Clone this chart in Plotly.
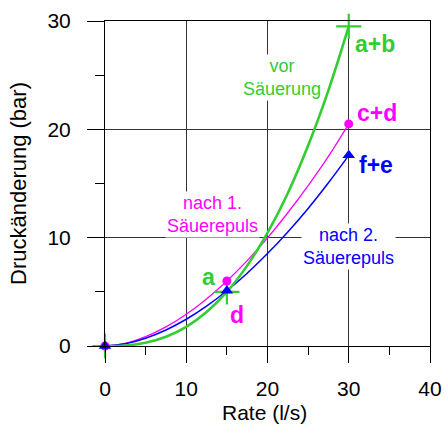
import plotly.graph_objects as go

# Measured points (markers)
rate_pts = [0, 15, 30]
vor_pts = [0, 5.0, 29.5]      # a+b, vor Säuerung
nach1_pts = [0, 6.0, 20.5]    # c+d, nach 1. Säuerepuls
nach2_pts = [0, 5.1, 17.6]    # f+e, nach 2. Säuerepuls

# Curve values
rate_curve = [0, 2.5, 5, 7.5, 10, 12.5, 15, 17.5, 20, 22.5, 25, 27.5, 30]
vor_curve = [0, 0.05, 0.30, 0.85, 1.77, 3.14, 5.0, 7.42, 10.44, 14.1, 18.5, 23.6, 29.5]
nach1_curve = [0, 0.25, 0.86, 1.76, 2.93, 4.35, 6.0, 7.88, 9.98, 12.3, 14.8, 17.5, 20.5]
nach2_curve = [0, 0.21, 0.72, 1.48, 2.47, 3.68, 5.1, 6.72, 8.53, 10.53, 12.7, 15.07, 17.6]

GREEN = "#33cc33"
MAGENTA = "#ff00ff"
BLUE = "#0000ff"
FONT = "Liberation Sans, Arial, sans-serif"

fig = go.Figure()

fig.add_trace(go.Scatter(x=rate_curve, y=nach1_curve, mode="lines",
                         line=dict(color=MAGENTA, width=1.3, shape="spline"), showlegend=False))
fig.add_trace(go.Scatter(x=rate_curve, y=nach2_curve, mode="lines",
                         line=dict(color=BLUE, width=1.5, shape="spline"), showlegend=False))
fig.add_trace(go.Scatter(x=rate_curve, y=vor_curve, mode="lines",
                         line=dict(color=GREEN, width=2.6, shape="spline"), showlegend=False))

fig.add_trace(go.Scatter(x=rate_pts, y=vor_pts, mode="markers", cliponaxis=False,
                         marker=dict(symbol="cross-thin", size=18, line=dict(color=GREEN, width=2.2)),
                         showlegend=False))
fig.add_trace(go.Scatter(x=rate_pts, y=nach1_pts, mode="markers", cliponaxis=False,
                         marker=dict(symbol="circle", size=9, color=MAGENTA), showlegend=False))
fig.add_trace(go.Scatter(x=rate_pts, y=nach2_pts, mode="markers", cliponaxis=False,
                         marker=dict(symbol="triangle-up", size=11, color=BLUE), showlegend=False))

annotations = [
    dict(x=21.75, y=24.8, text="vor<br>Säuerung", color=GREEN, size=18, bold=False, bg=True),
    dict(x=13.17, y=12.1, text="nach 1.<br>Säuerepuls", color=MAGENTA, size=18, bold=False, bg=True),
    dict(x=30.0, y=9.14, text="nach 2.<br>Säuerepuls", color=BLUE, size=18, bold=False, bg=True),
    dict(x=33.2, y=27.85, text="a+b", color=GREEN, size=23, bold=True, bg=False),
    dict(x=33.5, y=21.48, text="c+d", color=MAGENTA, size=23, bold=True, bg=False),
    dict(x=33.35, y=16.7, text="f+e", color=BLUE, size=23, bold=True, bg=False),
    dict(x=12.72, y=6.4, text="a", color=GREEN, size=23, bold=True, bg=False),
    dict(x=16.2, y=2.86, text="d", color=MAGENTA, size=23, bold=True, bg=False),
]
for a in annotations:
    fig.add_annotation(
        x=a["x"], y=a["y"], xref="x", yref="y",
        text=("<b>%s</b>" % a["text"]) if a["bold"] else a["text"],
        showarrow=False,
        font=dict(family=FONT, size=a["size"], color=a["color"]),
        bgcolor="white" if a["bg"] else "rgba(0,0,0,0)",
        borderpad=1,
    )

# x-axis title placed as a paper annotation below the tick labels
fig.add_annotation(
    x=0.49, y=-0.206, xref="paper", yref="paper", xanchor="center", yanchor="middle",
    text="Rate (l/s)", showarrow=False, borderpad=0,
    font=dict(family=FONT, size=21, color="black"),
)

GRID = "#333333"
fig.update_xaxes(
    range=[0, 40], tickvals=[0, 10, 20, 30, 40], automargin=False,
    showgrid=True, gridcolor=GRID, gridwidth=1,
    zeroline=False, showline=True, linecolor="black", linewidth=1, mirror=True,
    ticks="outside", ticklen=16, tickcolor="black", tickwidth=1,
    minor=dict(tickvals=[5, 15, 25, 35], ticks="outside", ticklen=8, tickcolor="black", showgrid=False),
    tickfont=dict(family=FONT, size=21, color="black"),
    ticklabelstandoff=8,
)
fig.update_yaxes(
    range=[0, 30], tickvals=[0, 10, 20, 30], automargin=False,
    showgrid=True, gridcolor=GRID, gridwidth=1,
    zeroline=False, showline=True, linecolor="black", linewidth=1, mirror=True,
    ticks="outside", ticklen=17, tickcolor="black", tickwidth=1,
    minor=dict(tickvals=[5, 15, 25], ticks="outside", ticklen=9, tickcolor="black", showgrid=False),
    tickfont=dict(family=FONT, size=21, color="black"),
    ticklabelstandoff=12,
    title=dict(text="Druckänderung (bar)", font=dict(family=FONT, size=22, color="black"), standoff=14),
)

fig.update_layout(
    width=444, height=426,
    margin=dict(l=105, r=14, t=21, b=80),
    paper_bgcolor="white", plot_bgcolor="white",
    showlegend=False,
)

fig.write_html("out.html")
